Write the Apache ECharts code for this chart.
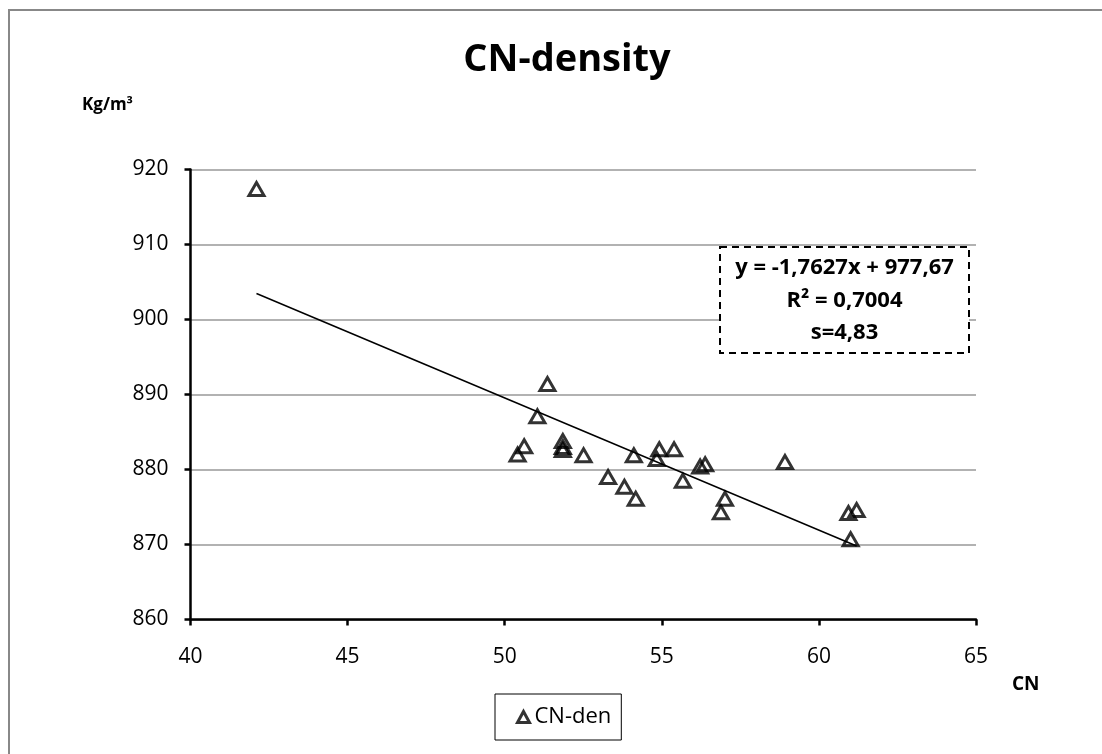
<!DOCTYPE html>
<html>
<head>
<meta charset="utf-8">
<script src="https://cdn.jsdelivr.net/npm/echarts@6/dist/echarts.min.js"></script>
<style>
html,body{margin:0;padding:0;background:#fff;}
#chart{width:1102px;height:754px;}
</style>
</head>
<body>
<div id="chart"></div>
<script>
// ---- data ----
var seriesName = 'CN-den';
var cnValues = [42.1, 51.36, 51.04, 50.62, 50.41, 51.85, 51.85, 51.85, 52.51, 53.29, 53.81, 54.17, 54.11, 54.92, 54.84, 55.39, 55.67, 56.22, 56.38, 57.01, 56.88, 58.92, 60.94, 61.20, 61.01];
var densityValues = [917.4, 891.4, 887.1, 883.1, 882.0, 883.8, 883.0, 882.6, 881.9, 879.0, 877.7, 876.1, 881.9, 882.7, 881.4, 882.7, 878.5, 880.4, 880.7, 876.1, 874.3, 881.0, 874.2, 874.6, 870.7];
var trendSlope = -1.7627;
var trendIntercept = 977.67;
var xTicks = [40, 45, 50, 55, 60, 65];
var yTicks = [860, 870, 880, 890, 900, 910, 920];
var titleText = 'CN-density';
var yName = 'Kg/m³';
var xName = 'CN';
var annotationLines = ['y = -1,7627x + 977,67', 'R² = 0,7004', 's=4,83'];

var points = cnValues.map(function (x, i) { return [x, densityValues[i]]; });
var xMin = Math.min.apply(null, cnValues);
var xMax = Math.max.apply(null, cnValues);
var trendData = [[xMin, trendSlope * xMin + trendIntercept], [xMax, trendSlope * xMax + trendIntercept]];

var FONT = 'Open Sans';
var chart = echarts.init(document.getElementById('chart'));
var option = {
  backgroundColor: '#fff',
  animation: false,
  textStyle: { fontFamily: FONT },
  title: {
    text: titleText,
    left: 562, top: 36,
    textAlign: 'center',
    textStyle: { fontFamily: FONT, fontSize: 38, fontWeight: 'bold', color: '#000' }
  },
  grid: { left: 190.5, right: 126, top: 169.5, bottom: 134.5, containLabel: false },
  xAxis: {
    type: 'value',
    min: xTicks[0], max: xTicks[xTicks.length - 1], interval: 5,
    axisLine: { lineStyle: { color: '#000', width: 2.5 } },
    axisTick: { show: true, length: 6, lineStyle: { color: '#000', width: 2.5 } },
    axisLabel: { margin: 27, fontSize: 21, color: '#000', fontFamily: FONT },
    splitLine: { show: false }
  },
  yAxis: {
    type: 'value',
    min: yTicks[0], max: yTicks[yTicks.length - 1], interval: 10,
    axisLine: { show: true, lineStyle: { color: '#000', width: 2.5 } },
    axisTick: { show: true, length: 6, lineStyle: { color: '#000', width: 2.5 } },
    axisLabel: { margin: 22, fontSize: 21, color: '#000', fontFamily: FONT },
    splitLine: { show: true, lineStyle: { color: '#999', width: 1.5 } }
  },
  legend: {
    data: [{ name: seriesName, icon: 'triangle' }],
    itemStyle: { color: '#fff', borderColor: '#000', borderWidth: 3 },
    left: 495, top: 694,
    itemWidth: 12, itemHeight: 11, itemGap: 6,
    padding: [12, 10, 12, 21],
    borderColor: '#000', borderWidth: 1,
    textStyle: { fontSize: 22, color: '#000', fontFamily: FONT }
  },
  series: [
    {
      name: seriesName,
      type: 'scatter',
      data: points,
      symbol: 'triangle',
      symbolSize: [15, 13],
      itemStyle: { color: 'rgba(255,255,255,0)', borderColor: '#000', borderWidth: 3 },
      z: 3
    },
    {
      name: 'trend',
      type: 'line',
      data: trendData,
      symbol: 'none',
      lineStyle: { color: '#000', width: 1.5 },
      silent: true,
      z: 2
    }
  ],
  graphic: [
    { type: 'rect', shape: { x: 9, y: 10, width: 1110, height: 760 }, style: { fill: 'none', stroke: '#888', lineWidth: 2 }, silent: true },
    { type: 'text', left: 82, top: 97, style: { text: yName, fontFamily: FONT, fontSize: 17, fontWeight: 'bold', fill: '#000' } },
    { type: 'text', left: 1012, top: 675, style: { text: xName, fontFamily: FONT, fontSize: 19, fontWeight: 'bold', fill: '#000' } },
    { type: 'rect', shape: { x: 720, y: 247, width: 249, height: 106 }, style: { fill: '#fff', stroke: '#000', lineWidth: 2, lineDash: [7, 5] }, z: 10 },
    { type: 'text', x: 844.5, y: 268, z: 11, style: { text: annotationLines[0], fontFamily: FONT, fontSize: 22, fontWeight: 'bold', fill: '#000', textAlign: 'center', textVerticalAlign: 'middle' } },
    { type: 'text', x: 844.5, y: 301, z: 11, style: { text: annotationLines[1], fontFamily: FONT, fontSize: 22, fontWeight: 'bold', fill: '#000', textAlign: 'center', textVerticalAlign: 'middle' } },
    { type: 'text', x: 844.5, y: 333, z: 11, style: { text: annotationLines[2], fontFamily: FONT, fontSize: 22, fontWeight: 'bold', fill: '#000', textAlign: 'center', textVerticalAlign: 'middle' } }
  ]
};
chart.setOption(option);
</script>
</body>
</html>
